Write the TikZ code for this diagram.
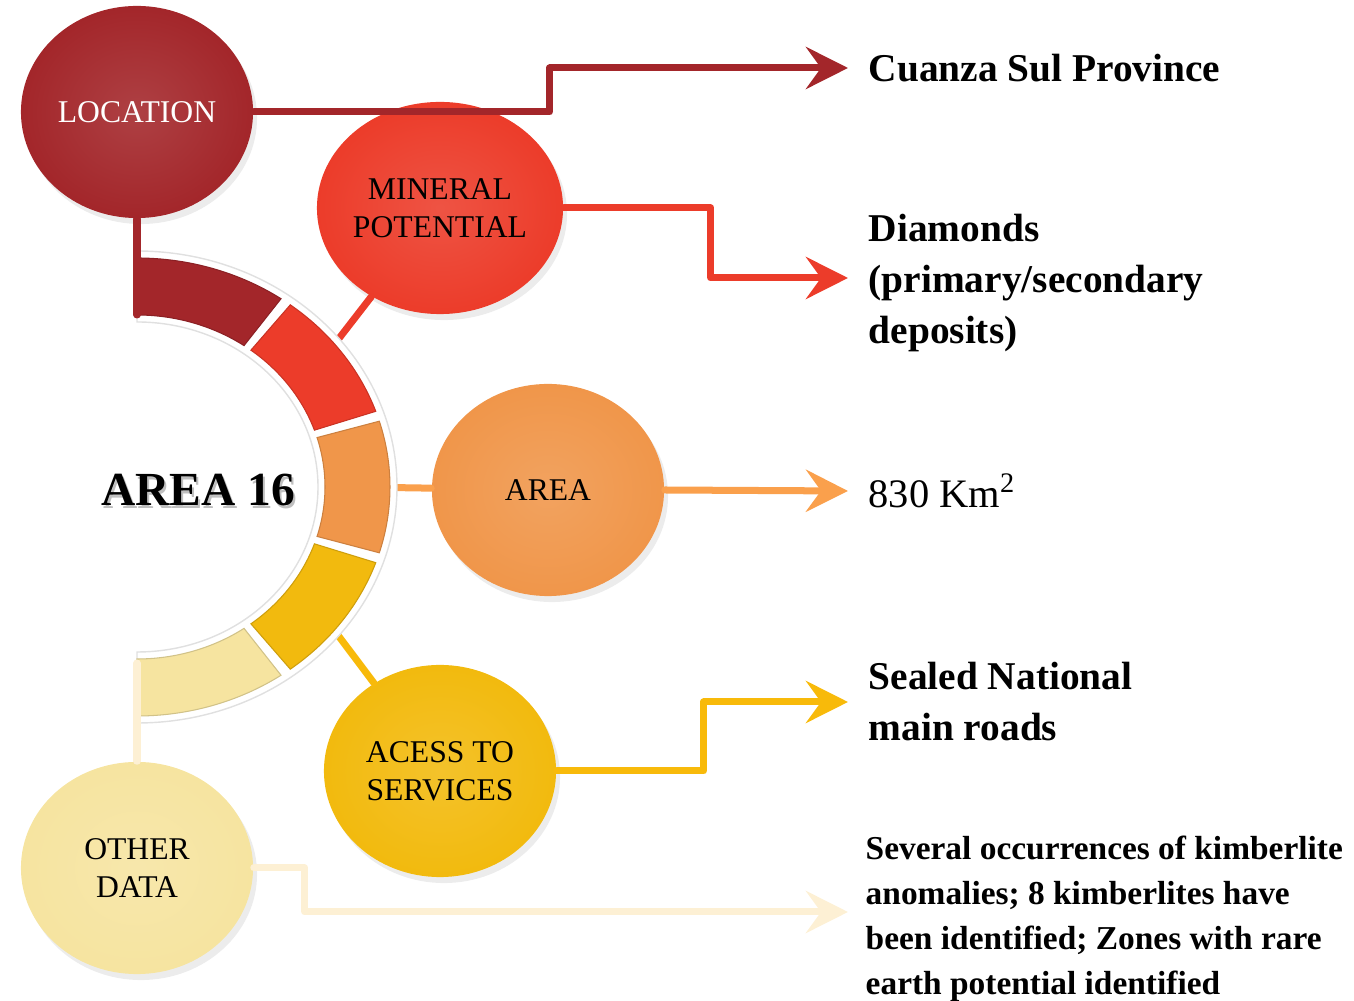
\documentclass[tikz,border=0pt]{standalone}
\usepackage{fontspec}
\setmainfont{Liberation Serif}
\usetikzlibrary{arrows.meta,positioning,shapes.geometric,shadows,calc}
\definecolor{locred}{RGB}{163,38,42}
\definecolor{minred}{RGB}{236,60,42}
\definecolor{areaorange}{RGB}{240,150,74}
\definecolor{servgold}{RGB}{242,186,14}
\definecolor{otherpale}{RGB}{246,228,160}
\definecolor{arealine}{RGB}{250,160,76}
\definecolor{servline}{RGB}{248,186,10}
\definecolor{otherline}{RGB}{253,240,212}

\begin{document}
\begin{tikzpicture}[
    x=0.01cm, y=-0.01cm,
    bubble/.style={ellipse, minimum width=2.32cm, minimum height=2.12cm, inner sep=0pt, align=center,
      inner color=#1!88!white, outer color=#1,
      drop shadow={opacity=0.15, shadow xshift=0.04cm, shadow yshift=-0.06cm},
      font=\fontsize{9}{10.8}\selectfont},
    link/.style={line width=0.07cm, line cap=round, line join=round},
    arr/.style={link, -{Stealth[length=0.42cm, width=0.42cm, inset=0.15cm]}},
    info/.style={inner sep=0pt, align=left, font=\fontsize{11.2}{14.5}\selectfont\bfseries},
    hubtitle/.style={inner sep=0pt, font=\fontsize{13.5}{15}\selectfont\bfseries},
    node distance=0.2cm
]
\useasboundingbox (0,0) rectangle (1354,1001);

% circles
\node[bubble=locred, text=white] (loc) at (137,112) {LOCATION};
\node[bubble=minred] (mineral) at (440,208) {MINERAL\\POTENTIAL};
\node[bubble=areaorange] (area) at (548,490) {AREA};
\node[bubble=servgold] (access) at (440,771) {ACESS TO\\SERVICES};
\node[bubble=otherpale] (other) at (137,868) {OTHER\\DATA};

% spokes (behind the ring)
\coordinate (hub) at (137,487);
\coordinate (spokeMin) at ($(hub)+(-36:220 and 200)$);
\coordinate (spokeArea) at ($(hub)+(0:220 and 200)$);
\coordinate (spokeAcc) at ($(hub)+(36:220 and 200)$);
\draw[link, minred] (spokeMin) -- (mineral);
\draw[link, arealine] (spokeArea) -- (area);
\draw[link, servline] (spokeAcc) -- (access);

% ring
\fill[white, draw=black!12] (hub) ++(-90:260 and 236) arc[start angle=-90, end angle=90, x radius=260, y radius=236]
  -- ++(0,-71) arc[start angle=90, end angle=-90, x radius=181, y radius=165] -- cycle;
\foreach \col [count=\k from 0] in {locred,minred,areaorange,servgold,otherpale} {
  \pgfmathsetmacro\a{ifthenelse(\k==0, -90, -90+36*\k+1.3)}
  \pgfmathsetmacro\b{ifthenelse(\k==4, 90, -54+36*\k-1.3)}
  \fill[\col, draw=\col!85!black, line width=0.3pt] (hub) ++(\a:253 and 229)
    arc[start angle=\a, end angle=\b, x radius=253, y radius=229]
    -- ($(hub)+(\b:188 and 172)$)
    arc[start angle=\b, end angle=\a, x radius=188, y radius=172] -- cycle;
}
\coordinate (locEnd) at (137,315);
\coordinate (otherEnd) at (137,663);
\draw[link, locred] (loc) -- (locEnd);
\draw[link, otherline] (otherEnd) -- (other);

\node[hubtitle, text=black!25] at (200,493) {AREA 16};
\node[hubtitle] (title) at (198,490) {AREA 16};

% arrows to the facts
\coordinate (tipLoc) at (848,68);
\coordinate (tipMin) at (848,278);
\coordinate (tipArea) at (848,491);
\coordinate (tipAcc) at (848,702);
\coordinate (tipOther) at (848,912);
\draw[arr, locred] (loc.east) -- ++(296,0) |- (tipLoc);
\draw[arr, minred] (mineral.east) -- ++(147,0) |- (tipMin);
\draw[arr, arealine] (area.east) -- (tipArea);
\draw[arr, servline] (access.east) -- ++(147,0) |- (tipAcc);
\draw[arr, otherline] (other.east) -- ++(51,0) |- (tipOther);

\node[info, right=of tipLoc] (tLoc) {Cuanza Sul Province};
\node[info, right=of tipMin, yshift=-0.05cm] (tMin) {Diamonds\\(primary/secondary\\deposits)};
\node[info, font=\fontsize{11.5}{14.5}\selectfont, right=of tipArea] (tArea) {830 Km\textsuperscript{2}};
\node[info, right=of tipAcc] (tAcc) {Sealed National\\main roads};
\node[info, font=\fontsize{9.5}{12.8}\selectfont\bfseries, right=0.17cm of tipOther, yshift=-0.07cm] (tOther)
  {Several occurrences of kimberlite\\anomalies; 8 kimberlites have\\been identified; Zones with rare\\earth potential identified};
\end{tikzpicture}
\end{document}
